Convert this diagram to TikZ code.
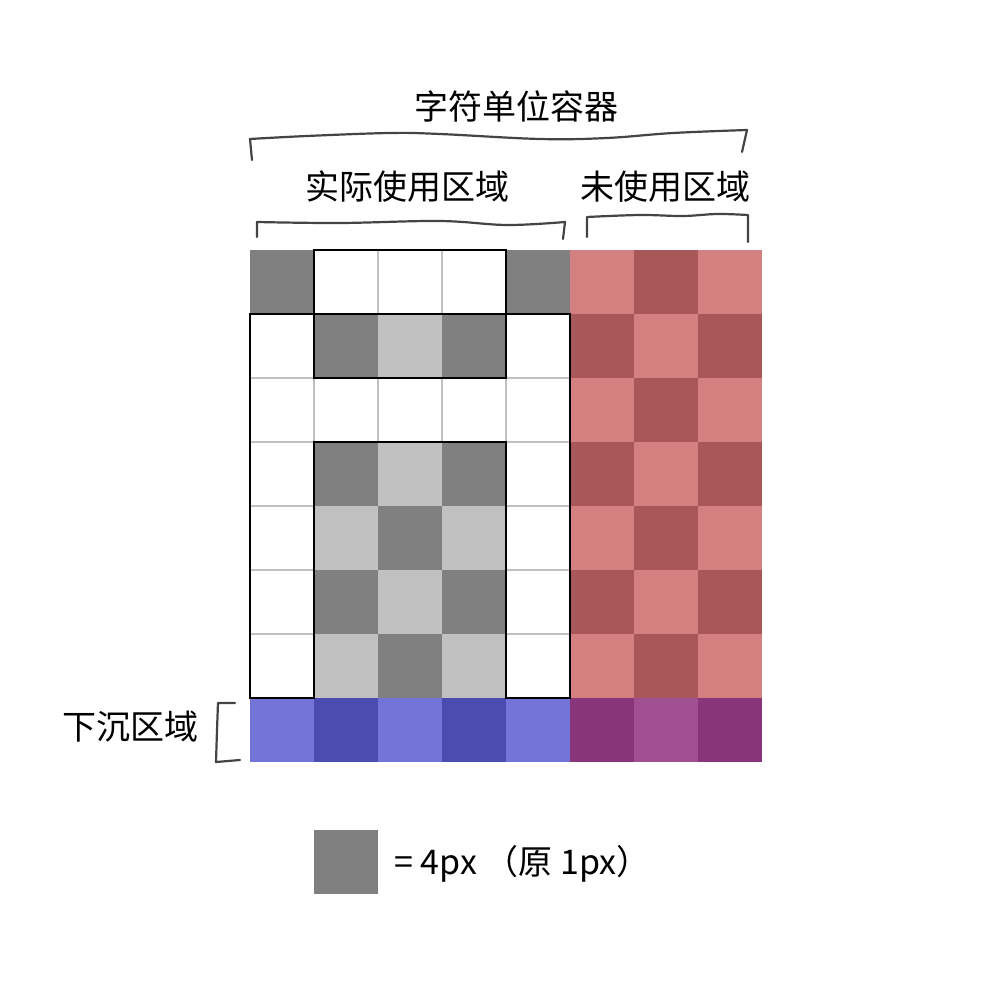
\documentclass[tikz,border=0pt]{standalone}
\usepackage{fontspec}
\setmainfont{Noto Sans CJK SC}
\definecolor{dgray}{HTML}{808080}
\definecolor{lgray}{HTML}{C0C0C0}
\definecolor{lred}{HTML}{D48080}
\definecolor{dred}{HTML}{A85858}
\definecolor{lblue}{HTML}{7474D8}
\definecolor{dblue}{HTML}{4C4CB0}
\definecolor{dpurp}{HTML}{88357A}
\definecolor{lpurp}{HTML}{A05090}
\definecolor{gridln}{HTML}{C0C0C0}
\definecolor{penclr}{HTML}{444444}
\def\whitename{white}
\begin{document}
\begin{tikzpicture}[x=1pt,y=-1pt,
  lab/.style={font=\fontsize{34}{40}\selectfont, inner sep=0pt, text=black},
  handline/.style={draw=penclr, line width=2.2pt, line cap=round, line join=round},
  whitecell/.style={fill=white, draw=gridln, line width=1.6pt},
  outline/.style={draw=black, line width=1.8pt, line join=miter}]
\fill[white] (0,0) rectangle (1000,1000);
\useasboundingbox (0,0) rectangle (1000,1000);
% grid cells
\foreach [count=\r from 0] \rowlist in {
  {dgray,white,white,white,dgray,lred,dred,lred},
  {white,dgray,lgray,dgray,white,dred,lred,dred},
  {white,white,white,white,white,lred,dred,lred},
  {white,dgray,lgray,dgray,white,dred,lred,dred},
  {white,lgray,dgray,lgray,white,lred,dred,lred},
  {white,dgray,lgray,dgray,white,dred,lred,dred},
  {white,lgray,dgray,lgray,white,lred,dred,lred},
  {lblue,dblue,lblue,dblue,lblue,dpurp,lpurp,dpurp}} {
  \foreach [count=\c from 0] \clr in \rowlist {
    \edef\tmpclr{\clr}
    \ifx\tmpclr\whitename
      \path[whitecell] ({250+64*\c},{250+64*\r}) rectangle ++(64,64);
    \else
      \fill[\clr] ({250+64*\c},{250+64*\r}) rectangle ++(64,64);
    \fi
  }
}
% black outlines of white regions
\draw[outline] (314,250) rectangle (506,314);
\draw[outline] (250,314) -- (314,314) -- (314,378) -- (506,378) -- (506,314)
  -- (570,314) -- (570,698) -- (506,698) -- (506,442) -- (314,442)
  -- (314,698) -- (250,698) -- cycle;
% labels
\node[lab, anchor=base] (title) at (516,120) {字符单位容器};
\node[lab, anchor=base] (used) at (407,200) {实际使用区域};
\node[lab, anchor=base] (unused) at (665,200) {未使用区域};
\node[lab, anchor=base] (sink) at (130,739) {下沉区域};
% hand drawn braces
\draw[handline] (252,160) -- (250,139) -- plot[smooth, tension=0.6] coordinates
  {(250,139) (307,136) (390,133) (440,134) (540,139) (607,138) (673,133) (747,130)}
  -- (742,152);
\draw[handline] (257,237) -- (257,222) -- plot[smooth, tension=0.6] coordinates
  {(257,222) (340,223) (440,221) (507,225) (565,222)} -- (563,239);
\draw[handline] (587,237) -- (587,217) -- plot[smooth, tension=0.6] coordinates
  {(587,217) (640,215) (683,216) (717,214) (748,215)} -- (748,242);
\draw[handline] (235,703) -- (218,703) -- (217,730) -- (216,762) -- (240,760);
% legend
\fill[dgray] (314,830) rectangle (378,894);
\node[lab, anchor=base west] (legend) at (394,874) {= 4px （原 1px）};
\end{tikzpicture}
\end{document}
